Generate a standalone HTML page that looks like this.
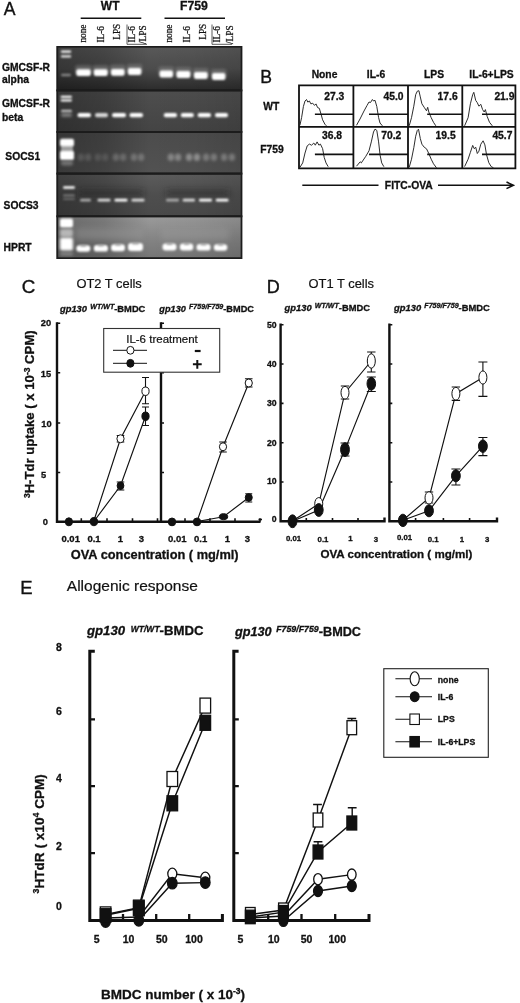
<!DOCTYPE html>
<html><head><meta charset="utf-8"><title>Figure</title>
<style>
html,body{margin:0;padding:0;background:#fff;}
body{width:520px;height:1003px;overflow:hidden;}
svg{display:block;}
text{font-family:"Liberation Sans",sans-serif;fill:#111;}
.rg{stroke:#111;stroke-width:0.2px;}
.pl{stroke:#111;stroke-width:0.35px;}
.b{font-weight:bold;stroke:#111;stroke-width:0.3px;}
.i{font-style:italic;}
.s{font-family:"Liberation Serif",serif;stroke:#111;stroke-width:0.25px;}
</style></head><body>
<svg width="520" height="1003" viewBox="0 0 520 1003">
<defs>
<filter id="b1" x="-30%" y="-100%" width="160%" height="300%"><feGaussianBlur stdDeviation="0.9"/></filter>
<filter id="b2" x="-50%" y="-200%" width="200%" height="500%"><feGaussianBlur stdDeviation="1.6"/></filter>
<filter id="b3" x="-30%" y="-400%" width="160%" height="900%"><feGaussianBlur stdDeviation="3"/></filter>
<filter id="b05" x="-10%" y="-10%" width="120%" height="120%"><feGaussianBlur stdDeviation="0.5"/></filter>
<linearGradient id="g1" x1="0" y1="0" x2="0" y2="1"><stop offset="0" stop-color="#585858"/><stop offset="0.5" stop-color="#4c4c4c"/><stop offset="0.8" stop-color="#383838"/><stop offset="1" stop-color="#2c2c2c"/></linearGradient>
<linearGradient id="g2" x1="0" y1="0" x2="0" y2="1"><stop offset="0" stop-color="#4e4e4e"/><stop offset="1" stop-color="#444"/></linearGradient>
<linearGradient id="g3" x1="0" y1="0" x2="0" y2="1"><stop offset="0" stop-color="#4c4c4c"/><stop offset="1" stop-color="#525252"/></linearGradient>
<linearGradient id="g4" x1="0" y1="0" x2="0" y2="1"><stop offset="0" stop-color="#5c5c5c"/><stop offset="0.5" stop-color="#4e4e4e"/><stop offset="1" stop-color="#4a4a4a"/></linearGradient>
<linearGradient id="g5" x1="0" y1="0" x2="0" y2="1"><stop offset="0" stop-color="#9a9a9a"/><stop offset="0.6" stop-color="#828282"/><stop offset="1" stop-color="#767676"/></linearGradient>
<linearGradient id="hs" x1="0" y1="0" x2="1" y2="0"><stop offset="0" stop-color="#000" stop-opacity="0.3"/><stop offset="0.25" stop-color="#000" stop-opacity="0.2"/><stop offset="0.5" stop-color="#000" stop-opacity="0"/><stop offset="0.75" stop-color="#000" stop-opacity="0.03"/><stop offset="1" stop-color="#000" stop-opacity="0.1"/></linearGradient>
</defs>
<rect width="520" height="1003" fill="#fff"/>

<g id="panelA">
<text x="3.8" y="15" font-size="17.6" class="pl">A</text>
<text x="110.2" y="9.8" font-size="12" class="b" text-anchor="middle">WT</text>
<text x="194" y="10" font-size="12.2" class="b" text-anchor="middle">F759</text>
<path d="M80.7 18.2H141.3M164.5 18.2H225" stroke="#111" stroke-width="1.4" fill="none"/>
<text class="s" font-size="9.3" transform="translate(85.9 42.6) rotate(-90)">none</text>
<text class="s" font-size="9.3" transform="translate(103.6 42.6) rotate(-90)">IL-6</text>
<text class="s" font-size="9.3" transform="translate(120.2 39.8) rotate(-90)">LPS</text>
<text class="s" font-size="9.3" transform="translate(135 42.6) rotate(-90)">IL-6</text>
<text class="s" font-size="9.3" transform="translate(146 44) rotate(-90)">/LPS</text>
<text class="s" font-size="9.3" transform="translate(172 42.6) rotate(-90)">none</text>
<text class="s" font-size="9.3" transform="translate(189.5 42.6) rotate(-90)">IL-6</text>
<text class="s" font-size="9.3" transform="translate(206 39.8) rotate(-90)">LPS</text>
<text class="s" font-size="9.3" transform="translate(219.8 42.6) rotate(-90)">IL-6</text>
<text class="s" font-size="9.3" transform="translate(232.8 44) rotate(-90)">/LPS</text>
<path d="M127 24.5V44.3H147M212 24.5V44.3H232" stroke="#333" stroke-width="0.8" fill="none"/>
<text x="2" y="71.2" font-size="10.3" class="b">GMCSF-R</text>
<text x="2" y="83" font-size="10.3" class="b">alpha</text>
<text x="2" y="107.3" font-size="10.3" class="b">GMCSF-R</text>
<text x="2" y="120.6" font-size="10.3" class="b">beta</text>
<text x="5.3" y="160.2" font-size="10.3" class="b">SOCS1</text>
<text x="3.6" y="208.8" font-size="10.3" class="b">SOCS3</text>
<text x="3.6" y="251.3" font-size="10.3" class="b">HPRT</text>
<rect x="56.3" y="46" width="186.1" height="213" fill="#1c1c1c"/>
<rect x="58.3" y="47.7" width="182.3" height="41.8" fill="url(#g1)"/>
<rect x="58.3" y="91.3" width="182.3" height="39.7" fill="url(#g2)"/>
<rect x="58.3" y="132.9" width="182.3" height="39.7" fill="url(#g3)"/>
<rect x="58.3" y="174.6" width="182.3" height="40.8" fill="url(#g4)"/>
<rect x="58.3" y="217.2" width="182.3" height="40.0" fill="url(#g5)"/>
<rect x="58.3" y="47.7" width="182.3" height="209.5" fill="url(#hs)"/>
<rect x="56.3" y="89.45" width="186.1" height="1.9" fill="#1c1c1c"/>
<rect x="56.3" y="131.0" width="186.1" height="1.9" fill="#1c1c1c"/>
<rect x="56.3" y="172.65" width="186.1" height="1.9" fill="#1c1c1c"/>
<rect x="56.3" y="215.35000000000002" width="186.1" height="1.9" fill="#1c1c1c"/>
<rect x="60.8" y="50.6" width="10.4" height="2.2" rx="1.1" fill="#fff" opacity="1" filter="url(#b1)"/>
<rect x="60.8" y="55.3" width="10.4" height="2.2" rx="1.1" fill="#eee" opacity="1" filter="url(#b1)"/>
<rect x="61.0" y="73.8" width="10.0" height="2.5" rx="1.25" fill="#aaa" opacity="0.7" filter="url(#b1)"/>
<rect x="75.3" y="65.2" width="16.5" height="9" rx="2" fill="#888" opacity="0.5" filter="url(#b2)"/>
<rect x="76.3" y="69.3" width="14.5" height="6.8" rx="2" fill="#fff" opacity="1" filter="url(#b1)"/>
<rect x="92.8" y="65.2" width="15.9" height="9" rx="2" fill="#888" opacity="0.5" filter="url(#b2)"/>
<rect x="93.8" y="69.3" width="13.9" height="6.8" rx="2" fill="#fff" opacity="1" filter="url(#b1)"/>
<rect x="110.0" y="64.8" width="15.6" height="9" rx="2" fill="#888" opacity="0.5" filter="url(#b2)"/>
<rect x="111.0" y="68.9" width="13.6" height="6.8" rx="2" fill="#fff" opacity="1" filter="url(#b1)"/>
<rect x="126.9" y="64.0" width="15.4" height="9" rx="2" fill="#888" opacity="0.5" filter="url(#b2)"/>
<rect x="127.9" y="68.1" width="13.4" height="6.8" rx="2" fill="#fff" opacity="1" filter="url(#b1)"/>
<rect x="158.6" y="66.5" width="15.4" height="9" rx="2" fill="#888" opacity="0.5" filter="url(#b2)"/>
<rect x="159.6" y="70.6" width="13.4" height="6.8" rx="2" fill="#fff" opacity="1" filter="url(#b1)"/>
<rect x="175.5" y="67.0" width="15.9" height="9" rx="2" fill="#888" opacity="0.5" filter="url(#b2)"/>
<rect x="176.5" y="71.1" width="13.9" height="6.8" rx="2" fill="#fff" opacity="1" filter="url(#b1)"/>
<rect x="193.0" y="68.0" width="15.7" height="9" rx="2" fill="#888" opacity="0.5" filter="url(#b2)"/>
<rect x="194.0" y="72.1" width="13.7" height="6.8" rx="2" fill="#fff" opacity="1" filter="url(#b1)"/>
<rect x="211.0" y="69.0" width="15.4" height="9" rx="2" fill="#888" opacity="0.5" filter="url(#b2)"/>
<rect x="212.0" y="73.1" width="13.4" height="6.8" rx="2" fill="#fff" opacity="1" filter="url(#b1)"/>
<rect x="60.5" y="95.7" width="11.5" height="2.2" rx="1.1" fill="#fff" opacity="1" filter="url(#b1)"/>
<rect x="60.5" y="99.2" width="11.5" height="2.2" rx="1.1" fill="#fff" opacity="1" filter="url(#b1)"/>
<rect x="61.0" y="109.8" width="11.0" height="2.5" rx="1.25" fill="#ccc" opacity="0.9" filter="url(#b1)"/>
<rect x="61.0" y="113.0" width="11.0" height="4" rx="2.0" fill="#999" opacity="0.7" filter="url(#b2)"/>
<rect x="77.5" y="112.9" width="13.5" height="4.3" rx="2" fill="#fff" opacity="1" filter="url(#b1)"/>
<rect x="95.0" y="112.9" width="13.0" height="4.3" rx="2" fill="#fff" opacity="0.8" filter="url(#b1)"/>
<rect x="112.0" y="112.9" width="14.0" height="4.3" rx="2" fill="#fff" opacity="1" filter="url(#b1)"/>
<rect x="129.5" y="112.9" width="13.5" height="4.3" rx="2" fill="#fff" opacity="1" filter="url(#b1)"/>
<rect x="163.8" y="112.9" width="13.2" height="4.3" rx="2" fill="#fff" opacity="1" filter="url(#b1)"/>
<rect x="180.8" y="112.9" width="13.0" height="4.3" rx="2" fill="#fff" opacity="1" filter="url(#b1)"/>
<rect x="197.7" y="112.9" width="13.3" height="4.3" rx="2" fill="#fff" opacity="1" filter="url(#b1)"/>
<rect x="215.0" y="112.9" width="13.0" height="4.3" rx="2" fill="#fff" opacity="1" filter="url(#b1)"/>
<rect x="61.0" y="144.0" width="12.0" height="10" rx="2" fill="#aaa" opacity="0.9" filter="url(#b1)"/>
<rect x="60.0" y="138.8" width="14.0" height="7.5" rx="2" fill="#fff" opacity="1" filter="url(#b1)"/>
<rect x="60.0" y="151.0" width="14.0" height="9" rx="2" fill="#fff" opacity="1" filter="url(#b1)"/>
<rect x="61.0" y="160.5" width="12.0" height="5" rx="2" fill="#999" opacity="0.6" filter="url(#b2)"/>
<ellipse cx="80.9" cy="157.3" rx="3.2" ry="3.8" fill="#ddd" opacity="0.17" filter="url(#b2)"/>
<ellipse cx="88.1" cy="157.3" rx="3.2" ry="3.8" fill="#ddd" opacity="0.17" filter="url(#b2)"/>
<ellipse cx="97.9" cy="157.3" rx="3.2" ry="3.8" fill="#ddd" opacity="0.14" filter="url(#b2)"/>
<ellipse cx="105.1" cy="157.3" rx="3.2" ry="3.8" fill="#ddd" opacity="0.14" filter="url(#b2)"/>
<ellipse cx="115.9" cy="157.3" rx="3.2" ry="3.8" fill="#ddd" opacity="0.24" filter="url(#b2)"/>
<ellipse cx="123.1" cy="157.3" rx="3.2" ry="3.8" fill="#ddd" opacity="0.24" filter="url(#b2)"/>
<ellipse cx="133.9" cy="157.3" rx="3.2" ry="3.8" fill="#ddd" opacity="0.28" filter="url(#b2)"/>
<ellipse cx="141.1" cy="157.3" rx="3.2" ry="3.8" fill="#ddd" opacity="0.28" filter="url(#b2)"/>
<ellipse cx="170.9" cy="157.3" rx="3.2" ry="3.8" fill="#ddd" opacity="0.39" filter="url(#b2)"/>
<ellipse cx="178.1" cy="157.3" rx="3.2" ry="3.8" fill="#ddd" opacity="0.39" filter="url(#b2)"/>
<ellipse cx="189.1" cy="157.3" rx="3.2" ry="3.8" fill="#ddd" opacity="0.45" filter="url(#b2)"/>
<ellipse cx="196.9" cy="157.3" rx="3.2" ry="3.8" fill="#ddd" opacity="0.45" filter="url(#b2)"/>
<ellipse cx="206.1" cy="157.3" rx="3.2" ry="3.8" fill="#ddd" opacity="0.32" filter="url(#b2)"/>
<ellipse cx="213.9" cy="157.3" rx="3.2" ry="3.8" fill="#ddd" opacity="0.32" filter="url(#b2)"/>
<ellipse cx="224.1" cy="157.3" rx="3.2" ry="3.8" fill="#ddd" opacity="0.32" filter="url(#b2)"/>
<ellipse cx="231.9" cy="157.3" rx="3.2" ry="3.8" fill="#ddd" opacity="0.32" filter="url(#b2)"/>
<rect x="63.0" y="186.2" width="12.0" height="2.6" rx="1.3" fill="#fff" opacity="1" filter="url(#b1)"/>
<rect x="63.0" y="194.5" width="12.0" height="2" rx="1.0" fill="#999" opacity="0.7" filter="url(#b1)"/>
<rect x="63.0" y="198.0" width="12.0" height="2" rx="1.0" fill="#888" opacity="0.6" filter="url(#b1)"/>
<rect x="78.0" y="190.5" width="66.0" height="5" rx="2" fill="#222" opacity="0.6" filter="url(#b3)"/>
<rect x="166.0" y="190.5" width="63.0" height="5" rx="2" fill="#222" opacity="0.6" filter="url(#b3)"/>
<rect x="80.0" y="198.8" width="11.0" height="2.8" rx="1.4" fill="#aaa" opacity="1" filter="url(#b1)"/>
<rect x="97.5" y="198.8" width="13.0" height="2.8" rx="1.4" fill="#ddd" opacity="1" filter="url(#b1)"/>
<rect x="114.5" y="198.8" width="13.0" height="2.8" rx="1.4" fill="#fff" opacity="1" filter="url(#b1)"/>
<rect x="131.5" y="198.8" width="13.0" height="2.8" rx="1.4" fill="#ddd" opacity="1" filter="url(#b1)"/>
<rect x="166.0" y="198.8" width="13.0" height="2.8" rx="1.4" fill="#aaa" opacity="1" filter="url(#b1)"/>
<rect x="182.7" y="198.8" width="12.3" height="2.8" rx="1.4" fill="#ddd" opacity="1" filter="url(#b1)"/>
<rect x="199.0" y="198.8" width="13.0" height="2.8" rx="1.4" fill="#fff" opacity="1" filter="url(#b1)"/>
<rect x="215.8" y="198.8" width="12.7" height="2.8" rx="1.4" fill="#fff" opacity="1" filter="url(#b1)"/>
<rect x="60.0" y="218.5" width="13.0" height="9" rx="2" fill="#fff" opacity="1" filter="url(#b1)"/>
<rect x="60.0" y="237.5" width="13.0" height="13" rx="2" fill="#fff" opacity="1" filter="url(#b2)"/>
<rect x="60.0" y="229.0" width="13.0" height="8" rx="2" fill="#ccc" opacity="0.8" filter="url(#b2)"/>
<rect x="60.0" y="252.5" width="13.0" height="3" rx="1.5" fill="#aaa" opacity="0.6" filter="url(#b2)"/>
<rect x="75.0" y="228.0" width="69.0" height="12" rx="2" fill="#999" opacity="0.45" filter="url(#b3)"/>
<rect x="161.0" y="228.0" width="68.0" height="12" rx="2" fill="#999" opacity="0.45" filter="url(#b3)"/>
<rect x="76.3" y="245.2" width="14.1" height="6.5" rx="3.2" fill="#fff" filter="url(#b1)"/>
<rect x="80.3" y="244.8" width="6.1" height="2" rx="1.0" fill="#888" opacity="0.7" filter="url(#b1)"/>
<rect x="93.8" y="245.1" width="14.2" height="6.5" rx="3.2" fill="#fff" filter="url(#b1)"/>
<rect x="97.8" y="244.6" width="6.2" height="2" rx="1.0" fill="#888" opacity="0.7" filter="url(#b1)"/>
<rect x="111.0" y="244.3" width="14.0" height="7" rx="3.2" fill="#fff" filter="url(#b1)"/>
<rect x="115.0" y="243.8" width="6.0" height="2" rx="1.0" fill="#888" opacity="0.7" filter="url(#b1)"/>
<rect x="128.0" y="243.0" width="15.0" height="8" rx="3.2" fill="#fff" filter="url(#b1)"/>
<rect x="132.0" y="242.5" width="7.0" height="2" rx="1.0" fill="#888" opacity="0.7" filter="url(#b1)"/>
<rect x="162.5" y="243.5" width="14.0" height="7" rx="3.2" fill="#fff" filter="url(#b1)"/>
<rect x="166.5" y="243.0" width="6.0" height="2" rx="1.0" fill="#888" opacity="0.7" filter="url(#b1)"/>
<rect x="179.8" y="243.5" width="13.5" height="7" rx="3.2" fill="#fff" filter="url(#b1)"/>
<rect x="183.8" y="243.0" width="5.5" height="2" rx="1.0" fill="#888" opacity="0.7" filter="url(#b1)"/>
<rect x="196.5" y="244.1" width="14.1" height="6.5" rx="3.2" fill="#fff" filter="url(#b1)"/>
<rect x="200.5" y="243.6" width="6.1" height="2" rx="1.0" fill="#888" opacity="0.7" filter="url(#b1)"/>
<rect x="213.8" y="244.2" width="13.5" height="6.5" rx="3.2" fill="#fff" filter="url(#b1)"/>
<rect x="217.8" y="243.8" width="5.5" height="2" rx="1.0" fill="#888" opacity="0.7" filter="url(#b1)"/>
</g>
<g id="panelB">
<text x="260.3" y="82.7" font-size="17.6" class="pl">B</text>
<text x="324.5" y="77.6" font-size="10.3" class="b" text-anchor="middle">None</text>
<text x="376" y="77.6" font-size="10.3" class="b" text-anchor="middle">IL-6</text>
<text x="434" y="77.6" font-size="10.3" class="b" text-anchor="middle">LPS</text>
<text x="491.5" y="77.6" font-size="10.3" class="b" text-anchor="middle">IL-6+LPS</text>
<text x="271.2" y="110" font-size="10.3" class="b" text-anchor="middle">WT</text>
<text x="272" y="153" font-size="10.3" class="b" text-anchor="middle">F759</text>
<path d="M299 85.3H515.4V168.4H299ZM299 126.8H515.4M353.4 85.3V168.4M408 85.3V168.4M462.3 85.3V168.4" stroke="#111" stroke-width="1.8" fill="none"/>
<path d="M299.9 125.3 L301.6 117.6 L303.4 106.5 L305.0 101.0 L306.5 99.5 L307.8 102.1 L309.4 101.0 L310.9 103.9 L312.7 103.2 L314.5 105.4 L316.0 103.9 L317.6 107.6 L319.3 108.3 L321.1 114.3 L322.6 119.8 L324.9 124.2 L326.4 125.8" stroke="#222" stroke-width="0.95" fill="none" stroke-linejoin="round"/>
<path d="M356.5 125.3 L360.0 119.0 L364.0 111.0 L367.0 105.5 L369.0 102.0 L370.5 102.5 L372.4 99.5 L373.6 101.0 L375.0 100.3 L376.8 106.5 L378.6 117.6 L380.0 123.0 L382.4 125.8" stroke="#222" stroke-width="0.95" fill="none" stroke-linejoin="round"/>
<path d="M299.9 167.4 L302.7 162.9 L305.0 153.0 L307.2 145.9 L309.4 144.1 L311.6 145.2 L313.8 143.0 L315.3 145.2 L317.1 141.9 L318.9 145.2 L320.4 144.1 L322.6 148.6 L324.2 157.4 L326.0 162.9 L328.2 166.7" stroke="#222" stroke-width="0.95" fill="none" stroke-linejoin="round"/>
<path d="M356.5 166.2 L360.2 161.8 L361.3 162.9 L365.8 156.3 L369.0 150.8 L371.3 141.9 L373.5 132.0 L375.0 129.1 L376.8 130.4 L378.6 141.9 L380.1 155.2 L381.7 162.9 L383.9 166.7" stroke="#222" stroke-width="0.95" fill="none" stroke-linejoin="round"/>
<path d="M409.2 125.8 L411.5 117.7 L413.8 106.2 L415.7 94.6 L417.3 91.2 L418.9 90.7 L420.3 96.9 L421.9 103.8 L424.2 107.3 L426.5 110.8 L427.7 107.3 L428.8 112.0 L431.2 117.7 L433.5 122.3 L435.8 125.8" stroke="#222" stroke-width="0.95" fill="none" stroke-linejoin="round"/>
<path d="M464.6 125.8 L468.1 117.7 L470.4 103.8 L472.7 94.6 L473.8 92.3 L475.7 100.4 L477.3 102.7 L478.9 106.2 L480.8 104.3 L482.6 109.6 L484.2 112.0 L485.4 109.6 L487.2 116.5 L489.5 122.3 L492.3 125.8" stroke="#222" stroke-width="0.95" fill="none" stroke-linejoin="round"/>
<path d="M409.2 167.3 L411.5 159.2 L413.8 147.7 L415.7 136.2 L417.3 130.4 L418.5 129.2 L420.3 138.5 L421.9 144.2 L424.2 147.2 L426.5 148.8 L428.8 153.5 L431.2 159.2 L433.5 163.8 L436.5 167.8" stroke="#222" stroke-width="0.95" fill="none" stroke-linejoin="round"/>
<path d="M464.6 166.6 L468.1 159.2 L470.4 152.3 L472.7 145.4 L474.3 148.8 L475.7 147.2 L477.3 153.5 L478.9 151.2 L480.8 144.2 L483.1 140.8 L484.9 144.9 L486.5 154.6 L488.8 162.7 L491.2 166.6 L493.5 167.8" stroke="#222" stroke-width="0.95" fill="none" stroke-linejoin="round"/>
<path d="M314.9 114.2H353M369 114.2H408M427.2 114.2H462M482 114.2H515M314.9 154.4H353M369 154.4H408M427.2 154.4H462M482 154.4H515" stroke="#111" stroke-width="1.6" fill="none"/>
<text x="334.2" y="100.2" font-size="10.3" class="b" text-anchor="middle">27.3</text>
<text x="393.5" y="100.2" font-size="10.3" class="b" text-anchor="middle">45.0</text>
<text x="447.6" y="100.2" font-size="10.3" class="b" text-anchor="middle">17.6</text>
<text x="504.4" y="100.2" font-size="10.3" class="b" text-anchor="middle">21.9</text>
<text x="332" y="139" font-size="10.3" class="b" text-anchor="middle">36.8</text>
<text x="391.2" y="139" font-size="10.3" class="b" text-anchor="middle">70.2</text>
<text x="445.6" y="139" font-size="10.3" class="b" text-anchor="middle">19.5</text>
<text x="502.4" y="139" font-size="10.3" class="b" text-anchor="middle">45.7</text>
<path d="M302.3 185.3H378.5M438 185.3H513M506.5 182L513.5 185.3L506.5 188.6" stroke="#111" stroke-width="1.5" fill="none"/>
<text x="408.8" y="189.3" font-size="10.3" class="b" text-anchor="middle">FITC-OVA</text>
</g>
<g id="panelC">
<text x="21.7" y="292.8" font-size="18.8" class="pl">C</text>
<text x="76.4" y="288.3" font-size="12.9" class="rg">OT2 T cells</text>
<text x="60" y="312" font-size="9.35" class="b"><tspan class="i">gp130 </tspan><tspan class="i" font-size="7.1" dx="0.6" dy="-3.2">WT/WT</tspan><tspan dy="3.2">-BMDC</tspan></text>
<text x="159.3" y="312" font-size="9.2" class="b"><tspan class="i">gp130 </tspan><tspan class="i" font-size="7.1" dx="0.6" dy="-3.2">F759/F759</tspan><tspan dy="3.2">-BMDC</tspan></text>
<text transform="translate(34.4 414.2) rotate(-90)" font-size="13.15" class="b" text-anchor="middle"><tspan font-size="8.5" dy="-4">3</tspan><tspan dy="4">H-Tdr uptake ( x 10</tspan><tspan font-size="8.5" dy="-4">-3</tspan><tspan dy="4"> CPM)</tspan></text>
<path d="M57 322.3V521.7H260.5M161 322.3V521.7" stroke="#111" stroke-width="2.4" fill="none"/>
<path d="M57 323.3H60.2M161 323.3H164M57 372.8H60.2M161 372.8H164M57 423H60.2M161 423H164M57 472.5H60.2M161 472.5H164M81.3 521.7V518.3M107 521.7V518.3M132.5 521.7V518.3M157.5 521.7V518.3M185 521.7V518.3M210 521.7V518.3M235 521.7V518.3M260 521.7V518.3" stroke="#111" stroke-width="1.6" fill="none"/>
<text x="46" y="325.8" font-size="9.3" class="b" text-anchor="middle">20</text>
<text x="46" y="376.8" font-size="9.3" class="b" text-anchor="middle">15</text>
<text x="46.4" y="427" font-size="9.3" class="b" text-anchor="middle">10</text>
<text x="43.5" y="477.5" font-size="9.3" class="b" text-anchor="middle">5</text>
<text x="45.3" y="525" font-size="9.3" class="b" text-anchor="middle">0</text>
<text x="70.7" y="542.2" font-size="9.5" class="b" text-anchor="middle">0.01</text>
<text x="94" y="542.2" font-size="9.5" class="b" text-anchor="middle">0.1</text>
<text x="120.5" y="542.2" font-size="9.5" class="b" text-anchor="middle">1</text>
<text x="141.5" y="542.2" font-size="9.5" class="b" text-anchor="middle">3</text>
<text x="177.3" y="542.2" font-size="9.5" class="b" text-anchor="middle">0.01</text>
<text x="200.7" y="542.2" font-size="9.5" class="b" text-anchor="middle">0.1</text>
<text x="227.5" y="542.2" font-size="9.5" class="b" text-anchor="middle">1</text>
<text x="247.5" y="542.2" font-size="9.5" class="b" text-anchor="middle">3</text>
<text x="70.8" y="558.6" font-size="12.8" class="b">OVA concentration ( mg/ml)</text>
<path d="M68.8 521.5 L93.8 521.0 L120.5 438.8 L145.5 391.2" stroke="#111" stroke-width="1.15" fill="none"/>
<path d="M68.8 521.5 L93.8 521.5 L120.5 485.8 L145.5 416.2" stroke="#111" stroke-width="1.15" fill="none"/>
<path d="M145.5 377.5V403.75M142.0 377.5H149.0M142.0 403.75H149.0" stroke="#111" stroke-width="1.1" fill="none"/>
<path d="M145.5 407V425.5M142.0 407H149.0M142.0 425.5H149.0" stroke="#111" stroke-width="1.1" fill="none"/>
<path d="M120.5 435.5V442M116.7 435.5H124.3M116.7 442H124.3" stroke="#111" stroke-width="1.1" fill="none"/>
<path d="M120.5 482V490M116.7 482H124.3M116.7 490H124.3" stroke="#111" stroke-width="1.1" fill="none"/>
<ellipse cx="120.5" cy="438.75" rx="3.6" ry="4" fill="#fff" stroke="#111" stroke-width="1.0"/>
<ellipse cx="145.5" cy="391.25" rx="3.6" ry="4.2" fill="#fff" stroke="#111" stroke-width="1.0"/>
<ellipse cx="68.9" cy="521.8" rx="3.6" ry="4" fill="#111" stroke="#111" stroke-width="1.0"/>
<ellipse cx="93.9" cy="521.6" rx="3.7" ry="4.1" fill="#111" stroke="#111" stroke-width="1.0"/>
<ellipse cx="120.5" cy="485.75" rx="3.4" ry="3.8" fill="#111" stroke="#111" stroke-width="1.0"/>
<ellipse cx="145.5" cy="416.25" rx="3.6" ry="4.2" fill="#111" stroke="#111" stroke-width="1.0"/>
<path d="M172.0 521.5 L197.0 521.5 L223.0 446.8 L248.8 383.0" stroke="#111" stroke-width="1.15" fill="none"/>
<path d="M172.0 521.5 L197.0 521.5 L223.5 516.7 L248.8 497.5" stroke="#111" stroke-width="1.15" fill="none"/>
<path d="M223 442V452M219.2 442H226.8M219.2 452H226.8" stroke="#111" stroke-width="1.1" fill="none"/>
<path d="M248.75 378.75V387M244.95 378.75H252.55M244.95 387H252.55" stroke="#111" stroke-width="1.1" fill="none"/>
<path d="M248.75 493.75V502M245.25 493.75H252.25M245.25 502H252.25" stroke="#111" stroke-width="1.1" fill="none"/>
<ellipse cx="223" cy="446.75" rx="3.6" ry="4" fill="#fff" stroke="#111" stroke-width="1.0"/>
<ellipse cx="248.75" cy="383" rx="3.6" ry="4" fill="#fff" stroke="#111" stroke-width="1.0"/>
<ellipse cx="172" cy="521.9" rx="3.7" ry="3.9" fill="#111" stroke="#111" stroke-width="1.0"/>
<ellipse cx="197" cy="521.9" rx="3.7" ry="3.9" fill="#111" stroke="#111" stroke-width="1.0"/>
<ellipse cx="223.5" cy="516.7" rx="4.2" ry="3" fill="#111" stroke="#111" stroke-width="1.0"/>
<ellipse cx="248.75" cy="497.5" rx="3.5" ry="3.8" fill="#111" stroke="#111" stroke-width="1.0"/>
<rect x="103.7" y="328.5" width="116" height="43.7" fill="#fff" stroke="#333" stroke-width="1.1"/>
<text x="162" y="343" font-size="11.5" class="rg" text-anchor="middle">IL-6 treatment</text>
<path d="M113 350.3H147M113 363.3H147" stroke="#111" stroke-width="1" fill="none"/>
<ellipse cx="130.4" cy="350.3" rx="3.6" ry="3.9" fill="#fff" stroke="#111" stroke-width="1.0"/>
<ellipse cx="130.4" cy="363.3" rx="3.6" ry="3.9" fill="#111" stroke="#111" stroke-width="1.0"/>
<path d="M194.8 351H200.6" stroke="#111" stroke-width="2.2"/>
<path d="M192.9 364.3H201.7M197.3 359.9V368.7" stroke="#111" stroke-width="2"/>
</g>
<g id="panelD">
<text x="266.7" y="292.6" font-size="18" class="pl">D</text>
<text x="308.6" y="288.3" font-size="12.9" class="rg">OT1 T cells</text>
<text x="284.6" y="311.4" font-size="9.35" class="b"><tspan class="i">gp130 </tspan><tspan class="i" font-size="7.1" dx="0.6" dy="-3.2">WT/WT</tspan><tspan dy="3.2">-BMDC</tspan></text>
<text x="394" y="311.2" font-size="9.4" class="b"><tspan class="i">gp130 </tspan><tspan class="i" font-size="7.1" dx="0.6" dy="-3.2">F759/F759</tspan><tspan dy="3.2">-BMDC</tspan></text>
<path d="M280.6 323.5V521.2H384.5V517.5M389.4 323.5V521.2H497V517.5" stroke="#111" stroke-width="2.4" fill="none"/>
<path d="M280.6 324.7H283.5M389.4 324.7H392.3M280.6 364H283.5M389.4 364H392.3M280.6 403.4H283.5M389.4 403.4H392.3M280.6 442.7H283.5M389.4 442.7H392.3M280.6 482H283.5M389.4 482H392.3M306.3 521.2V518M332.5 521.2V518M358 521.2V518M415.6 521.2V518M443.4 521.2V518M469.6 521.2V518" stroke="#111" stroke-width="1.6" fill="none"/>
<path d="M258.5 519.5H262" stroke="#111" stroke-width="1.6"/>
<text x="276.6" y="327.8" font-size="8.7" class="b" text-anchor="end">50</text>
<text x="276.6" y="367.4" font-size="8.7" class="b" text-anchor="end">40</text>
<text x="276.6" y="405.5" font-size="8.7" class="b" text-anchor="end">30</text>
<text x="276.6" y="446.2" font-size="8.7" class="b" text-anchor="end">20</text>
<text x="276.6" y="484.2" font-size="8.7" class="b" text-anchor="end">10</text>
<text x="276.6" y="522.4" font-size="8.7" class="b" text-anchor="end">0</text>
<text x="293.6" y="540.6" font-size="7.8" class="b" text-anchor="middle">0.01</text>
<text x="323" y="541.8" font-size="7.8" class="b" text-anchor="middle">0.1</text>
<text x="350.5" y="541.4" font-size="7.8" class="b" text-anchor="middle">1</text>
<text x="376" y="541.6" font-size="7.8" class="b" text-anchor="middle">3</text>
<text x="404.6" y="540" font-size="7.8" class="b" text-anchor="middle">0.01</text>
<text x="433.2" y="542" font-size="7.8" class="b" text-anchor="middle">0.1</text>
<text x="462" y="542" font-size="7.8" class="b" text-anchor="middle">1</text>
<text x="487.2" y="542" font-size="7.8" class="b" text-anchor="middle">3</text>
<text x="320.4" y="557.8" font-size="11.6" class="b">OVA concentration ( mg/ml)</text>
<path d="M292.5 521.0 L318.8 503.8 L345.0 392.7 L371.3 361.0" stroke="#111" stroke-width="1.15" fill="none"/>
<path d="M292.5 521.2 L318.8 510.0 L345.0 449.6 L371.3 383.7" stroke="#111" stroke-width="1.15" fill="none"/>
<path d="M345 386V399M340.8 386H349.2M340.8 399H349.2" stroke="#111" stroke-width="1.1" fill="none"/>
<path d="M371.3 352V372M367.1 352H375.5M367.1 372H375.5" stroke="#111" stroke-width="1.1" fill="none"/>
<path d="M345 443V456M340.5 443H349.5M340.5 456H349.5" stroke="#111" stroke-width="1.1" fill="none"/>
<path d="M371.3 377V391.5M366.8 377H375.8M366.8 391.5H375.8" stroke="#111" stroke-width="1.1" fill="none"/>
<ellipse cx="318.75" cy="503.75" rx="4" ry="6.2" fill="#fff" stroke="#111" stroke-width="1.0"/>
<ellipse cx="345" cy="392.7" rx="4" ry="6.4" fill="#fff" stroke="#111" stroke-width="1.0"/>
<ellipse cx="371.3" cy="361" rx="4" ry="7.2" fill="#fff" stroke="#111" stroke-width="1.0"/>
<ellipse cx="292.5" cy="521.25" rx="4.4" ry="6.4" fill="#111" stroke="#111" stroke-width="1.0"/>
<ellipse cx="318.75" cy="510" rx="4.4" ry="6.4" fill="#111" stroke="#111" stroke-width="1.0"/>
<ellipse cx="345" cy="449.6" rx="4.4" ry="6.9" fill="#111" stroke="#111" stroke-width="1.0"/>
<ellipse cx="371.3" cy="383.7" rx="4.3" ry="6.4" fill="#111" stroke="#111" stroke-width="1.0"/>
<path d="M402.9 520.2 L429.0 497.9 L455.9 393.7 L482.9 377.5" stroke="#111" stroke-width="1.15" fill="none"/>
<path d="M402.9 520.2 L429.0 510.8 L455.9 475.8 L482.9 446.2" stroke="#111" stroke-width="1.15" fill="none"/>
<path d="M429 492V503M424.8 492H433.2M424.8 503H433.2" stroke="#111" stroke-width="1.1" fill="none"/>
<path d="M455.9 387V400.4M451.7 387H460.09999999999997M451.7 400.4H460.09999999999997" stroke="#111" stroke-width="1.1" fill="none"/>
<path d="M482.9 362V396.4M478.4 362H487.4M478.4 396.4H487.4" stroke="#111" stroke-width="1.1" fill="none"/>
<path d="M455.9 469V485M451.4 469H460.4M451.4 485H460.4" stroke="#111" stroke-width="1.1" fill="none"/>
<path d="M482.9 437.5V455.6M478.4 437.5H487.4M478.4 455.6H487.4" stroke="#111" stroke-width="1.1" fill="none"/>
<ellipse cx="429" cy="497.9" rx="4" ry="6.2" fill="#fff" stroke="#111" stroke-width="1.0"/>
<ellipse cx="455.9" cy="393.7" rx="4" ry="6.4" fill="#fff" stroke="#111" stroke-width="1.0"/>
<ellipse cx="482.9" cy="377.5" rx="4" ry="6.6" fill="#fff" stroke="#111" stroke-width="1.0"/>
<ellipse cx="402.9" cy="520.4" rx="4.4" ry="6.2" fill="#111" stroke="#111" stroke-width="1.0"/>
<ellipse cx="429" cy="510.8" rx="4.4" ry="6" fill="#111" stroke="#111" stroke-width="1.0"/>
<ellipse cx="455.9" cy="475.8" rx="4.4" ry="6" fill="#111" stroke="#111" stroke-width="1.0"/>
<ellipse cx="482.9" cy="446.2" rx="4.4" ry="6.2" fill="#111" stroke="#111" stroke-width="1.0"/>
</g>
<g id="panelE">
<text x="20.3" y="593.9" font-size="18.5" class="pl">E</text>
<text x="66.8" y="591" font-size="15.5" class="rg">Allogenic response</text>
<text x="87" y="635.2" font-size="13.2" class="b"><tspan class="i">gp130 </tspan><tspan class="i" font-size="8.5" dx="2" dy="-3.6">WT/WT</tspan><tspan dy="3.6">-BMDC</tspan></text>
<text x="235" y="636" font-size="12.7" class="b"><tspan class="i">gp130 </tspan><tspan class="i" font-size="8.8" dx="1" dy="-3.6">F759/F759</tspan><tspan dy="3.6">-BMDC</tspan></text>
<text transform="translate(43.6 833.8) rotate(-90)" font-size="13.6" class="b" text-anchor="middle"><tspan font-size="8.8" dy="-4.5">3</tspan><tspan dy="4.5">HTdR ( x10</tspan><tspan font-size="8.8" dy="-4.5">4</tspan><tspan dy="4.5"> CPM)</tspan></text>
<path d="M94.8 651.3H89.8V920.5H222.4V914M238.6 651.3H233.8V920.5H369V914" stroke="#111" stroke-width="3" fill="none"/>
<path d="M89.8 719.3H95M233.8 719.3H238.8M89.8 786.2H95M233.8 786.2H238.8M89.8 853.2H95M233.8 853.2H238.8M123 920.5V914M156.2 920.5V914M189.2 920.5V914M268.2 920.5V914M301.5 920.5V914M335.2 920.5V914" stroke="#111" stroke-width="2.3" fill="none"/>
<text x="58.8" y="650.5" font-size="10.5" class="b" text-anchor="middle">8</text>
<text x="58.8" y="714.5" font-size="10.5" class="b" text-anchor="middle">6</text>
<text x="58.8" y="782" font-size="10.5" class="b" text-anchor="middle">4</text>
<text x="58.8" y="849.6" font-size="10.5" class="b" text-anchor="middle">2</text>
<text x="58.8" y="910.2" font-size="10.5" class="b" text-anchor="middle">0</text>
<text x="96.7" y="943.3" font-size="10.5" class="b" text-anchor="middle">5</text>
<text x="128.5" y="943.3" font-size="10.5" class="b" text-anchor="middle">10</text>
<text x="161.8" y="943.3" font-size="10.5" class="b" text-anchor="middle">50</text>
<text x="194" y="943.3" font-size="10.5" class="b" text-anchor="middle">100</text>
<text x="240.5" y="943.3" font-size="10.5" class="b" text-anchor="middle">5</text>
<text x="273.8" y="943.3" font-size="10.5" class="b" text-anchor="middle">10</text>
<text x="306.5" y="943.3" font-size="10.5" class="b" text-anchor="middle">50</text>
<text x="337.3" y="943.3" font-size="10.5" class="b" text-anchor="middle">100</text>
<text x="101" y="998.8" font-size="13.5" class="b">BMDC number ( x 10<tspan font-size="8.5" dy="-4.5">-3</tspan><tspan dy="4.5">)</tspan></text>
<path d="M105.6 914.4 L138.8 907.6 L172.3 779.0 L205.3 705.6" stroke="#111" stroke-width="1.45" fill="none"/>
<path d="M105.6 915.2 L138.8 908.3 L172.3 803.3 L205.3 722.8" stroke="#111" stroke-width="1.45" fill="none"/>
<path d="M105.6 918.0 L138.8 917.0 L172.3 873.8 L205.3 877.8" stroke="#111" stroke-width="1.45" fill="none"/>
<path d="M105.6 921.5 L138.8 920.3 L172.3 883.2 L205.3 882.6" stroke="#111" stroke-width="1.45" fill="none"/>
<ellipse cx="172.3" cy="873.8" rx="4.5" ry="5.6" fill="#fff" stroke="#111" stroke-width="1.3"/>
<ellipse cx="205.3" cy="877.8" rx="4.5" ry="5.6" fill="#fff" stroke="#111" stroke-width="1.3"/>
<ellipse cx="105.6" cy="921.5" rx="4.8" ry="5.8" fill="#111" stroke="#111" stroke-width="1.2"/>
<ellipse cx="138.8" cy="920.3" rx="4.8" ry="5.8" fill="#111" stroke="#111" stroke-width="1.2"/>
<ellipse cx="172.3" cy="883.2" rx="4.8" ry="5.8" fill="#111" stroke="#111" stroke-width="1.2"/>
<ellipse cx="205.3" cy="882.6" rx="4.8" ry="5.8" fill="#111" stroke="#111" stroke-width="1.2"/>
<rect x="100.3" y="906.9" width="10.6" height="15" fill="#fff" stroke="#111" stroke-width="1.3"/>
<rect x="133.5" y="900.1" width="10.6" height="15" fill="#fff" stroke="#111" stroke-width="1.3"/>
<rect x="167.0" y="771.5" width="10.6" height="15" fill="#fff" stroke="#111" stroke-width="1.3"/>
<rect x="200.0" y="698.1" width="10.6" height="15" fill="#fff" stroke="#111" stroke-width="1.3"/>
<rect x="100.3" y="908.7" width="10.6" height="13" fill="#111" stroke="#111" stroke-width="1.3"/>
<rect x="133.5" y="900.8" width="10.6" height="15" fill="#111" stroke="#111" stroke-width="1.3"/>
<rect x="167.0" y="795.8" width="10.6" height="15" fill="#111" stroke="#111" stroke-width="1.3"/>
<rect x="200.0" y="715.3" width="10.6" height="15" fill="#111" stroke="#111" stroke-width="1.3"/>
<path d="M250.3 914.5 L283.4 910.0 L318.0 820.0 L351.8 727.7" stroke="#111" stroke-width="1.45" fill="none"/>
<path d="M250.3 917.0 L283.4 912.2 L318.0 852.0 L351.8 823.0" stroke="#111" stroke-width="1.45" fill="none"/>
<path d="M250.3 918.0 L283.4 916.0 L318.0 879.2 L351.8 874.6" stroke="#111" stroke-width="1.45" fill="none"/>
<path d="M250.3 920.0 L283.4 920.8 L318.0 891.0 L351.8 886.0" stroke="#111" stroke-width="1.45" fill="none"/>
<path d="M317.5 804.5V820M313.1 804.5H321.9" stroke="#111" stroke-width="1.4" fill="none"/>
<path d="M351.8 718.5V727.7M347.40000000000003 718.5H356.2" stroke="#111" stroke-width="1.4" fill="none"/>
<path d="M318 841.7V852M313.6 841.7H322.4" stroke="#111" stroke-width="1.4" fill="none"/>
<path d="M352.2 807.8V823M347.8 807.8H356.59999999999997" stroke="#111" stroke-width="1.4" fill="none"/>
<ellipse cx="318" cy="879.2" rx="4.3" ry="5.6" fill="#fff" stroke="#111" stroke-width="1.3"/>
<ellipse cx="351.8" cy="874.6" rx="4.3" ry="5.6" fill="#fff" stroke="#111" stroke-width="1.3"/>
<ellipse cx="283.4" cy="920.8" rx="4.5" ry="5.6" fill="#111" stroke="#111" stroke-width="1.2"/>
<ellipse cx="318" cy="891" rx="4.5" ry="5.6" fill="#111" stroke="#111" stroke-width="1.2"/>
<ellipse cx="351.8" cy="886" rx="4.5" ry="5.6" fill="#111" stroke="#111" stroke-width="1.2"/>
<rect x="245.5" y="907.5" width="9.6" height="14" fill="#fff" stroke="#111" stroke-width="1.3"/>
<rect x="278.6" y="903.0" width="9.6" height="14" fill="#fff" stroke="#111" stroke-width="1.3"/>
<rect x="313.2" y="813.0" width="9.6" height="14" fill="#fff" stroke="#111" stroke-width="1.3"/>
<rect x="347.0" y="720.7" width="9.6" height="14" fill="#fff" stroke="#111" stroke-width="1.3"/>
<rect x="245.4" y="910.2" width="9.8" height="13.5" fill="#111" stroke="#111" stroke-width="1.3"/>
<rect x="278.5" y="905.5" width="9.8" height="13.5" fill="#111" stroke="#111" stroke-width="1.3"/>
<rect x="313.1" y="845.0" width="9.8" height="14" fill="#111" stroke="#111" stroke-width="1.3"/>
<rect x="346.9" y="816.0" width="9.8" height="14" fill="#111" stroke="#111" stroke-width="1.3"/>
<rect x="383.8" y="668.7" width="104.5" height="88.6" fill="#fff" stroke="#222" stroke-width="1.1"/>
<path d="M395.4 678.8H432M395.4 696.7H432M395.4 719.2H432M395.4 741.7H432" stroke="#111" stroke-width="1.1" fill="none"/>
<ellipse cx="414.7" cy="678.8" rx="4.6" ry="7" fill="#fff" stroke="#111" stroke-width="1.1"/>
<ellipse cx="414.7" cy="696.7" rx="4.4" ry="5" fill="#111" stroke="#111" stroke-width="1.1"/>
<rect x="409.9" y="714.0" width="9.5" height="10.5" fill="#fff" stroke="#111" stroke-width="1.1"/>
<rect x="409.9" y="736.5" width="9.5" height="10.5" fill="#111" stroke="#111" stroke-width="1.1"/>
<text x="437.8" y="683.2" font-size="8.7" class="b">none</text>
<text x="437.8" y="699.7" font-size="8.7" class="b">IL-6</text>
<text x="437.8" y="722.2" font-size="8.7" class="b">LPS</text>
<text x="437.8" y="744.7" font-size="8.7" class="b">IL-6+LPS</text>
</g>
</svg>
</body></html>
